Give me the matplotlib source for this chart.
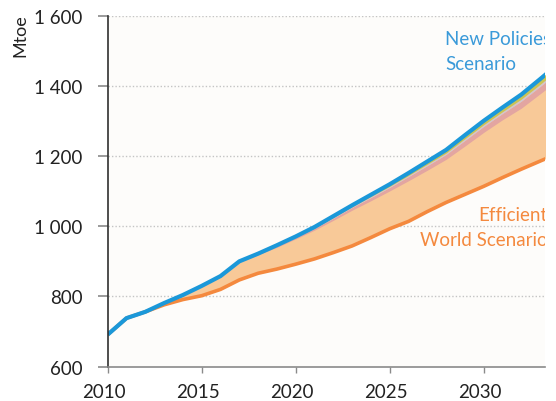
import matplotlib
matplotlib.use('Agg')
import matplotlib.pyplot as plt
from matplotlib.transforms import ScaledTranslation

# data (Mtoe)
years = list(range(2010, 2035))
new_policies = [691, 738, 756, 781, 804, 830, 858, 900, 922, 946, 971, 998, 1029,
                1060, 1090, 1120, 1152, 1185, 1218, 1260, 1301, 1339, 1376, 1420, 1465]
efficient_world = [691, 738, 756, 776, 791, 802, 820, 847, 866, 878, 892, 907, 925,
                   944, 968, 993, 1014, 1042, 1068, 1091, 1114, 1139, 1163, 1186, 1209]
# thin savings wedges just under the New Policies line
wedge_yellow = [0, 0, 0, 0, 0, 0, 0, 1, 1, 2, 2, 3, 4, 4, 5, 6, 7, 8, 9, 10, 11, 12, 13, 15, 16]
wedge_grey = [0, 0, 0, 0, 0, 0, 0, 0, 0, 1, 1, 1, 2, 2, 3, 3, 3, 4, 4, 5, 5, 5, 6, 6, 7]
wedge_pink = [0, 0, 0, 0, 0, 0, 0, 1, 2, 3, 4, 5, 6, 8, 9, 10, 12, 13, 14, 16, 17, 18, 20, 21, 23]

yticks = [600, 800, 1000, 1200, 1400, 1600]
ytick_labels = ['600', '800', '1 000', '1 200', '1 400', '1 600']
xticks = [2010, 2015, 2020, 2025, 2030]

plt.rcParams['font.family'] = ['Lato', 'DejaVu Sans']

blue = '#1b98d9'
orange = '#f4893e'

fig = plt.figure(figsize=(5.56, 4.02), dpi=100)
ax = fig.add_axes([0.1937, 0.0858, 0.9802 - 0.1937, 0.9577 - 0.0858])
ax.set_facecolor('#fdfcfa')

y_cut = [b - y for b, y in zip(new_policies, wedge_yellow)]
g_cut = [c - g for c, g in zip(y_cut, wedge_grey)]
p_cut = [c - p for c, p in zip(g_cut, wedge_pink)]

ax.fill_between(years, efficient_world, new_policies, color='#f8c998', lw=0)
ax.fill_between(years, p_cut, g_cut, color='#e3a5a1', lw=0)
ax.fill_between(years, g_cut, y_cut, color='#cfc6d2', lw=0)
ax.fill_between(years, y_cut, new_policies, color='#c9c455', lw=0)

ax.plot(years, efficient_world, color=orange, lw=2.6, solid_capstyle='butt')
ax.plot(years, new_policies, color=blue, lw=3.0, solid_capstyle='butt')

ax.set_xlim(2010, 2033.26)
ax.set_ylim(600, 1600)
ax.set_xticks(xticks)
ax.set_yticks(yticks)
ax.set_yticklabels(ytick_labels)

for v in yticks[1:]:
    ax.axhline(v, color='#c4c4c4', lw=1, ls=(0, (1, 1.5)), zorder=0)

ax.spines['top'].set_visible(False)
ax.spines['right'].set_visible(False)
ax.spines['left'].set_color('#303030')
ax.spines['bottom'].set_color('#8a8a8a')
ax.spines['left'].set_linewidth(1.2)
ax.spines['bottom'].set_linewidth(1.2)

ax.tick_params(axis='y', length=7, width=1.2, color='#8a8a8a', pad=11,
               labelsize=13.5, labelcolor='#222222')
ax.tick_params(axis='x', length=4, width=1, color='#8a8a8a', pad=8,
               labelsize=13.5, labelcolor='#222222')
for lab in ax.get_xticklabels():
    lab.set_transform(lab.get_transform() + ScaledTranslation(-0.035, 0, fig.dpi_scale_trans))

fig.text(0.036, 0.965, 'Mtoe', rotation=90, ha='center', va='top', fontsize=13, color='#222222')

# labels run past the right edge in the original, so they are clipped to the axes
ax.text(2027.95, 1500, 'New Policies\nScenario', color='#3a9ad9', fontsize=13.5,
        ha='left', va='center', linespacing=1.55, clip_on=True)
ax.text(2033.4, 998, 'Efficient\nWorld Scenario', color=orange, fontsize=13.5,
        ha='right', va='center', linespacing=1.55, clip_on=True)

fig.savefig('out.png', dpi=100)
